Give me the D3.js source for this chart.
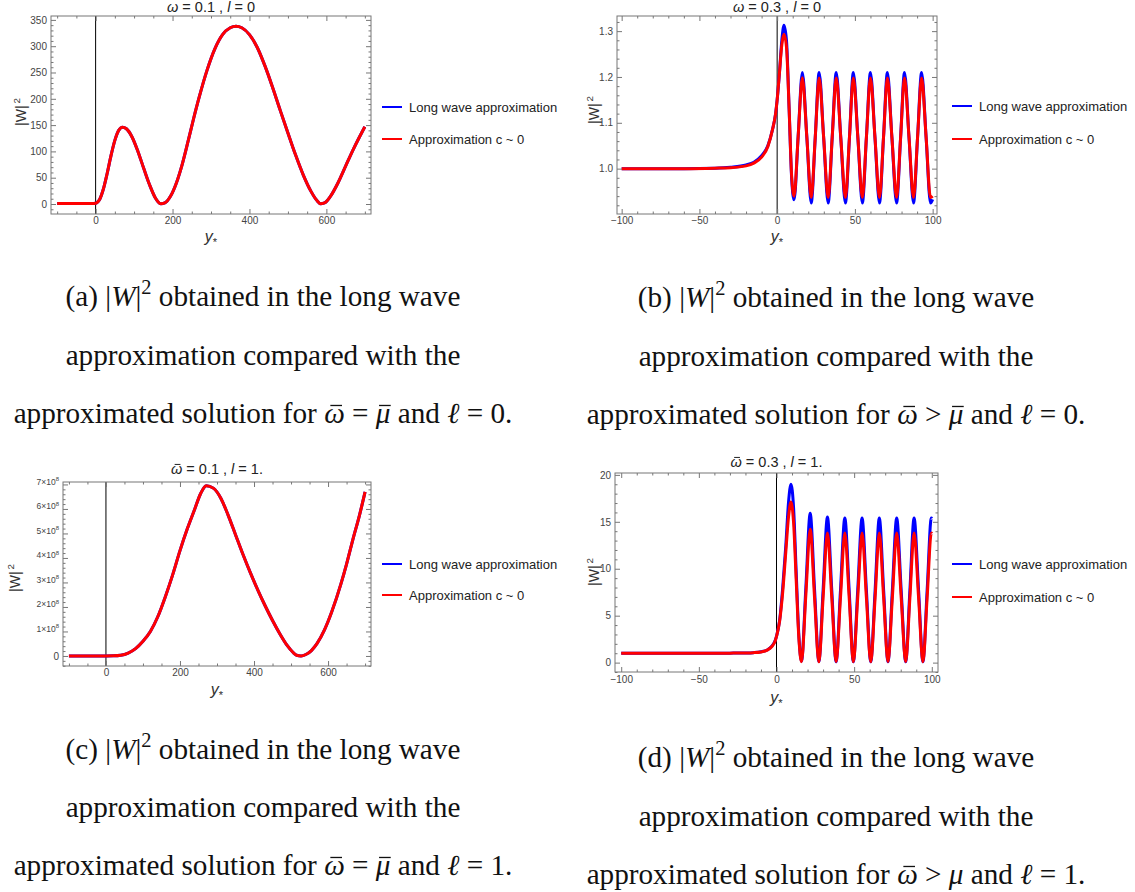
<!DOCTYPE html>
<html>
<head>
<meta charset="utf-8">
<script src="https://cdn.jsdelivr.net/npm/d3@7"></script>
<style>
body { margin: 0; background: #fff; }
svg text { font-family: "Liberation Sans", Arial, sans-serif; }
text.cap { font-family: "Liberation Serif", "Times New Roman", serif; fill: #111; }
</style>
</head>
<body>
<svg id="fig" width="1135" height="892"></svg>
<script>
// ---- data ----
// (a) omega = 0.1, l = 0  (both curves coincide)
var aX    = [-100,-60,-20,-5,0,5,10,20,30,40,50,60,70,80,95,110,125,140,155,170,180,195,210,225,240,255,270,290,310,330,350,365,380,400,420,440,460,480,500,520,540,560,575,585,595,610,630,650,670,685,700];
var aLong = [1,1,1,1.1,1.5,3.5,8,28,58,92,121,140,146,143,127,100,68,37,12,0.3,2,15,40,75,118,163,205,255,295,322,335,338,335,322,298,263,222,178,135,93,55,24,7,0.5,2,14,40,72,104,126,147];
var aApprox = aLong;

// (b) omega = 0.3, l = 0
var bX      = [-100,-60,-40,-30,-20,-15,-10,-6,-3,-1,0,1.5,3,4.4,6,7.7,9.3,10.9,13.5,16.2,19.1,21.9,24.5,27.0,29.9,32.8,35.4,38.0,40.9,43.9,46.5,49.0,51.9,54.8,57.4,60.0,62.9,65.8,68.4,70.9,73.8,76.8,79.4,81.9,84.8,87.7,90.3,92.9,95.8,98.6,100];
var bLong   = [1.0,1.0,1.001,1.003,1.008,1.014,1.028,1.05,1.085,1.12,1.15,1.21,1.28,1.313,1.28,1.13,0.98,0.932,1.07,1.21,1.068,0.925,1.068,1.21,1.068,0.925,1.068,1.21,1.068,0.925,1.068,1.21,1.068,0.925,1.068,1.21,1.068,0.925,1.068,1.21,1.068,0.925,1.068,1.21,1.068,0.925,1.068,1.21,1.068,0.925,0.933];
var bApprox = [1.0,1.0,1.001,1.002,1.006,1.012,1.025,1.048,1.085,1.12,1.15,1.21,1.27,1.293,1.265,1.13,0.985,0.94,1.07,1.198,1.068,0.937,1.068,1.198,1.068,0.937,1.068,1.198,1.068,0.937,1.068,1.198,1.068,0.937,1.068,1.198,1.068,0.937,1.068,1.198,1.068,0.937,1.068,1.198,1.068,0.937,1.068,1.198,1.068,0.937,0.94];

// (c) omega = 0.1, l = 1  (values in units of 10^8, curves coincide)
var cX    = [-100,-50,0,20,40,60,80,100,120,140,160,180,200,220,240,255,271,290,310,330,350,370,390,410,430,450,470,490,505,515,527,540,555,570,590,610,635,650,667,685,700];
var cLong = [0,0,0,0.005,0.03,0.12,0.3,0.6,1.0,1.6,2.4,3.3,4.3,5.2,6.0,6.6,6.95,6.85,6.45,5.75,4.95,4.15,3.4,2.7,2.05,1.45,0.9,0.42,0.15,0.03,0,0.06,0.22,0.5,1.05,1.8,2.95,3.75,4.75,5.75,6.7];
var cApprox = cLong;

// (d) omega = 0.3, l = 1
var dX      = [-100,-60,-40,-30,-20,-15,-10,-6,-3,-1,0,2,4,6,7.8,9.3,11,12.7,14.4,16.1,18.9,21.7,24.5,27.3,30.0,32.8,35.6,38.4,41.2,44.0,46.8,49.5,52.3,55.1,57.9,60.7,63.5,66.2,69.0,71.8,74.6,77.4,80.3,83.2,85.9,88.6,91.5,94.3,97.0,99.7,100];
var dLong   = [1.0,1.0,1.0,1.01,1.03,1.06,1.15,1.35,1.75,2.3,2.8,4.5,8.0,12.5,17.2,19.0,16.5,9.6,2.9,0.15,8.0,15.9,7.8,0.12,7.7,15.5,7.7,0.1,7.7,15.4,7.7,0.1,7.7,15.4,7.7,0.1,7.7,15.4,7.7,0.1,7.7,15.4,7.7,0.1,7.7,15.4,7.7,0.1,7.7,15.4,15.35];
var dApprox = [1.0,1.0,1.0,1.01,1.03,1.06,1.14,1.33,1.72,2.25,2.8,4.4,7.5,11.8,15.6,17.1,14.9,8.7,2.6,0.1,7.2,14.2,6.9,0.08,6.9,13.8,6.9,0.08,6.9,13.8,6.9,0.08,6.9,13.8,6.9,0.08,6.9,13.8,6.9,0.08,6.9,13.8,6.9,0.08,6.9,13.8,6.9,0.08,6.9,13.8,13.75];

// tick values
var aXTicks = [0, 200, 400, 600];
var aYTicks = [0, 50, 100, 150, 200, 250, 300, 350];
var bXTicks = [-100, -50, 0, 50, 100];
var bYTicks = [1.0, 1.1, 1.2, 1.3];
var cXTicks = [0, 200, 400, 600];
var cYTicks = [0, 1, 2, 3, 4, 5, 6, 7];
var dXTicks = [-100, -50, 0, 50, 100];
var dYTicks = [0, 5, 10, 15, 20];

var seriesNames  = ['Long wave approximation', 'Approximation c ~ 0'];
var seriesColors = ['#0000ff', '#ff0000'];

var svg = d3.select('#fig');
var defs = svg.append('defs');

// text with italic / superscript / subscript / barred pieces;
// bars are drawn as short lines over the glyph
function rich(text, parts, fs, barK) {
    var off = 0, count = 0, bars = [];
    parts.forEach(function(p) {
        var s = p[1] || '';
        var target = s === 'sup' ? -0.42 * fs : (s === 'sub' ? 0.22 * fs : 0);
        var t = text.append('tspan').text(p[0]).attr('dy', target - off);
        off = target;
        if (s === 'i' || s === 'ibar') t.attr('font-style', 'italic');
        if (s === 'sup' || s === 'sub') t.attr('font-size', fs * 0.7);
        if (s === 'ibar') bars.push(count);
        count += p[0].length;
    });
    if (!bars.length) return;
    var node = text.node();
    var base = +text.attr('y');
    var parent = d3.select(node.parentNode);
    bars.forEach(function(idx) {
        var e = node.getExtentOfChar(idx);
        var cx = e.x + e.width / 2 + fs * 0.06;
        var yy = base - (barK || 0.6) * fs;
        parent.append('line')
            .attr('x1', cx - fs * 0.2).attr('x2', cx + fs * 0.2)
            .attr('y1', yy).attr('y2', yy)
            .attr('stroke', text.attr('fill') || '#111')
            .attr('stroke-width', Math.max(1, fs * 0.045));
    });
}

function minors(dom, step, majors) {
    var out = [];
    var n0 = Math.ceil(dom[0] / step), n1 = Math.floor(dom[1] / step);
    for (var i = n0; i <= n1; i++) {
        var v = +(i * step).toFixed(6);
        if (!majors.some(function(m) { return Math.abs(m - v) < step / 100; })) out.push(v);
    }
    return out;
}

function cYFormat(sel) {
    sel.selectAll('.tick text').each(function(d) {
        var t = d3.select(this).text('').attr('font-size', 8.5);
        if (d === 0) { t.attr('font-size', 10).text('0'); return; }
        rich(t, [[d + '\u00d710'], ['8', 'sup']], 8.5);
    });
}

function drawPanel(p) {
    var g = svg.append('g');
    var b = p.box;
    var x = d3.scaleLinear().domain(p.xDom).range([b[0], b[2]]);
    var y = d3.scaleLinear().domain(p.yDom).range([b[3], b[1]]);

    defs.append('clipPath').attr('id', 'clip-' + p.id)
        .append('rect').attr('x', b[0]).attr('y', b[1])
        .attr('width', b[2] - b[0]).attr('height', b[3] - b[1]);

    // zero line
    g.append('line')
        .attr('x1', x(0)).attr('x2', x(0)).attr('y1', b[1]).attr('y2', b[3])
        .attr('stroke', '#000').attr('stroke-width', 1);

    // curves
    var line = d3.line()
        .x(function(d) { return x(d[0]); })
        .y(function(d) { return y(d[1]); })
        .curve(d3.curveMonotoneX);
    [p.long, p.approx].forEach(function(vals, k) {
        g.append('path')
            .datum(p.xs.map(function(v, i) { return [v, vals[i]]; }))
            .attr('clip-path', 'url(#clip-' + p.id + ')')
            .attr('fill', 'none')
            .attr('stroke', seriesColors[k])
            .attr('stroke-width', 3)
            .attr('stroke-linejoin', 'round')
            .attr('d', line);
    });

    // frame
    g.append('rect')
        .attr('x', b[0]).attr('y', b[1])
        .attr('width', b[2] - b[0]).attr('height', b[3] - b[1])
        .attr('fill', 'none').attr('stroke', '#777').attr('stroke-width', 1);

    var xMin = minors(p.xDom, p.xStep, p.xTicks);
    var yMin = minors(p.yDom, p.yStep, p.yTicks);

    var axes = [
        [d3.axisBottom(x).tickValues(p.xTicks).tickSize(-5).tickPadding(p.xPad).tickFormat(d3.format('d')), 'translate(0,' + b[3] + ')', 'xb'],
        [d3.axisBottom(x).tickValues(xMin).tickSize(-2.5).tickFormat(''), 'translate(0,' + b[3] + ')'],
        [d3.axisTop(x).tickValues(p.xTicks).tickSize(-5).tickFormat(''), 'translate(0,' + b[1] + ')'],
        [d3.axisTop(x).tickValues(xMin).tickSize(-2.5).tickFormat(''), 'translate(0,' + b[1] + ')'],
        [d3.axisLeft(y).tickValues(p.yTicks).tickSize(-5).tickPadding(4).tickFormat(p.yFmt), 'translate(' + b[0] + ',0)', 'yl'],
        [d3.axisLeft(y).tickValues(yMin).tickSize(-2.5).tickFormat(''), 'translate(' + b[0] + ',0)'],
        [d3.axisRight(y).tickValues(p.yTicks).tickSize(-5).tickFormat(''), 'translate(' + b[2] + ',0)'],
        [d3.axisRight(y).tickValues(yMin).tickSize(-2.5).tickFormat(''), 'translate(' + b[2] + ',0)']
    ];
    axes.forEach(function(a) {
        var ag = g.append('g').attr('transform', a[1]).call(a[0]);
        ag.select('.domain').remove();
        ag.selectAll('line').attr('stroke', '#777');
        ag.selectAll('text').attr('font-size', 10).attr('fill', '#444')
            .attr('font-family', '"Liberation Sans", Arial, sans-serif');
        if (a[2] === 'yl' && p.id === 'c') cYFormat(ag);
    });

    // title
    var tt = g.append('text').attr('x', (b[0] + b[2]) / 2).attr('y', p.titleY)
        .attr('text-anchor', 'middle').attr('font-size', 14.5).attr('fill', '#222');
    rich(tt, p.title, 14.5, 0.66);

    // axis labels
    var yl = g.append('text')
        .attr('transform', 'translate(' + p.ylab[0] + ',' + p.ylab[1] + ') rotate(-90)')
        .attr('text-anchor', 'middle').attr('font-size', 14).attr('fill', '#333');
    rich(yl, [['|W|'], ['\u20092', 'sup']], 14);
    var xl = g.append('text').attr('x', (b[0] + b[2]) / 2).attr('y', p.xlabY)
        .attr('text-anchor', 'middle').attr('font-size', 16).attr('fill', '#333');
    rich(xl, [['y', 'i'], ['*', 'sub']], 16);

    // legend
    seriesNames.forEach(function(name, k) {
        var ly = p.leg[1 + k];
        g.append('line').attr('x1', p.leg[0]).attr('x2', p.leg[0] + 20)
            .attr('y1', ly).attr('y2', ly)
            .attr('stroke', seriesColors[k]).attr('stroke-width', 2);
        g.append('text').attr('x', p.leg[0] + 27).attr('y', ly + 4.5)
            .attr('font-size', 13).attr('fill', '#222').text(name);
    });

    // caption
    p.cap.forEach(function(parts, i) {
        var ct = g.append('text').attr('class', 'cap')
            .attr('x', p.capX).attr('y', p.capY[i]).attr('fill', '#111')
            .attr('text-anchor', 'middle').attr('font-size', 29.2);
        rich(ct, parts, 29.2, 0.6);
    });
}

function capLines(tag, rel, muBar, ell) {
    return [
        [['(' + tag + ') |'], ['W', 'i'], ['|'], ['2', 'sup'], [' obtained in the long wave']],
        [['approximation compared with the']],
        [['approximated solution for '], ['\u03c9', 'ibar'], [' ' + rel + ' '], ['\u03bc', muBar ? 'ibar' : 'i'], [' and '], ['\u2113', 'i'], [' = ' + ell + '.']]
    ];
}

var panels = [
    {id: 'a', box: [51, 16, 371, 214], xDom: [-116, 716], yDom: [-19, 357.4],
     xTicks: aXTicks, xStep: 50, yTicks: aYTicks, yStep: 10, yFmt: d3.format('d'), xPad: 3,
     xs: aX, long: aLong, approx: aApprox, titleY: 12,
     title: [['\u03c9', 'i'], [' = 0.1 ,  '], ['l', 'i'], [' = 0']],
     ylab: [26, 112], xlabY: 242, leg: [382, 107, 139],
     capX: 263, capY: [306, 365, 423], cap: capLines('a', '=', true, '0')},
    {id: 'b', box: [617, 16, 937, 214], xDom: [-103, 102.8], yDom: [0.901, 1.333],
     xTicks: bXTicks, xStep: 10, yTicks: bYTicks, yStep: 0.02, yFmt: d3.format('.1f'), xPad: 3,
     xs: bX, long: bLong, approx: bApprox, titleY: 12,
     title: [['\u03c9', 'i'], [' = 0.3 ,  '], ['l', 'i'], [' = 0']],
     ylab: [599, 110], xlabY: 242, leg: [952, 106, 139],
     capX: 836, capY: [307, 366, 424], cap: capLines('b', '>', true, '0')},
    {id: 'c', box: [63, 482, 371, 666], xDom: [-116, 716], yDom: [-0.41, 7.1],
     xTicks: cXTicks, xStep: 50, yTicks: cYTicks, yStep: 0.2, yFmt: d3.format('d'), xPad: 3,
     xs: cX, long: cLong, approx: cApprox, titleY: 474,
     title: [['\u03c9', 'ibar'], [' = 0.1 ,  '], ['l', 'i'], [' = 1.']],
     ylab: [20, 578], xlabY: 695, leg: [382, 564, 595],
     capX: 263, capY: [759, 817, 875], cap: capLines('c', '=', true, '1')},
    {id: 'd', box: [615, 473, 938, 672], xDom: [-104, 104], yDom: [-1, 20.2],
     xTicks: dXTicks, xStep: 10, yTicks: dYTicks, yStep: 1, yFmt: d3.format('d'), xPad: 4,
     xs: dX, long: dLong, approx: dApprox, titleY: 467,
     title: [['\u03c9', 'ibar'], [' = 0.3 ,  '], ['l', 'i'], [' = 1.']],
     ylab: [599, 572], xlabY: 703, leg: [952, 564, 597],
     capX: 836, capY: [767, 826, 884], cap: capLines('d', '>', false, '1')}
];

panels.forEach(drawPanel);
</script>
</body>
</html>
